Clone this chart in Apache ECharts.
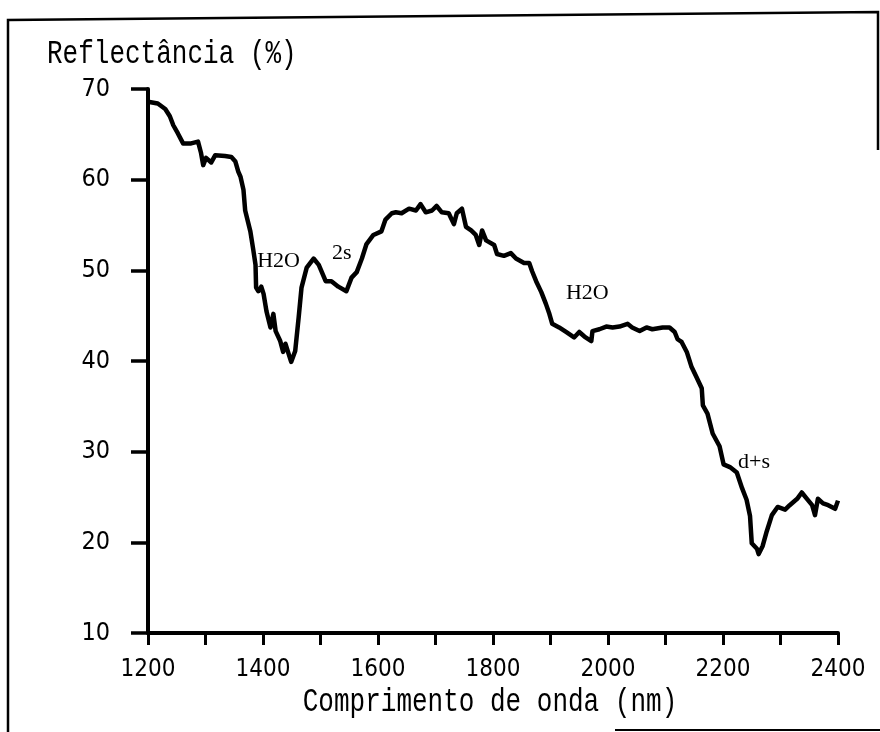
<!DOCTYPE html>
<html><head><meta charset="utf-8">
<script src="https://cdn.jsdelivr.net/npm/echarts@6/dist/echarts.min.js"></script>
<style>html,body{margin:0;padding:0;background:#fff}#c{width:880px;height:732px}</style>
</head><body><div id="c"></div>
<script>
// wavelength (nm)
const wavelength = [1200,1217,1230,1238,1244,1252,1261,1275,1287,1292,1296,1301,1310,1317,1334,1345,1352,1357,1361,1366,
1369,1378,1383,1387,1388,1392,1397,1401,1406,1413,1418,1422,1430,1435,1439,1449,1456,1462,1467,1476,
1488,1497,1509,1519,1531,1545,1554,1563,1572,1580,1592,1606,1613,1624,1631,1641,1654,1666,1674,1683,
1694,1702,1711,1723,1732,1737,1746,1753,1762,1770,1776,1781,1788,1802,1807,1819,1831,1840,1854,1863,
1868,1875,1884,1892,1898,1903,1915,1927,1941,1950,1959,1971,1973,1985,1997,2008,2020,2034,2042,2055,
2067,2077,2095,2107,2116,2121,2128,2137,2145,2154,2163,2165,2173,2182,2194,2201,2212,2224,2233,2241,
2247,2250,2259,2262,2269,2276,2285,2295,2308,2316,2329,2337,2346,2355,2360,2365,2374,2383,2395,2400];
// reflectance (%)
const reflectance = [68.6,68.4,67.8,67.0,66.0,65.1,64.0,64.0,64.2,63.0,61.6,62.4,61.9,62.7,62.6,62.5,62.0,60.9,60.3,58.9,
56.6,54.3,52.3,50.6,48.1,47.7,48.2,47.4,45.5,43.7,45.2,43.3,42.2,41.0,41.9,39.9,41.1,44.8,48.1,50.3,
51.3,50.6,48.8,48.8,48.2,47.7,49.2,49.8,51.3,52.9,53.9,54.3,55.6,56.3,56.4,56.3,56.8,56.6,57.3,56.4,
56.6,57.1,56.4,56.3,55.1,56.3,56.8,54.8,54.4,53.9,52.8,54.4,53.3,52.8,51.8,51.6,51.9,51.3,50.8,50.8,
49.9,48.8,47.6,46.3,45.2,44.1,43.7,43.2,42.6,43.2,42.7,42.2,43.3,43.5,43.8,43.7,43.8,44.1,43.7,43.3,
43.7,43.5,43.7,43.7,43.2,42.4,42.1,41.0,39.4,38.2,37.0,35.1,34.2,32.0,30.6,28.6,28.3,27.7,26.0,24.7,
22.9,19.9,19.3,18.7,19.6,21.2,23.0,23.9,23.6,24.1,24.8,25.5,24.8,24.1,23.0,24.8,24.3,24.1,23.7,24.6];
// annotations
const noteText = ['H2O','2s','H2O','d+s'];
const noteX = [1427,1537,1964,2254];
const noteY = [51.0,51.9,47.5,28.8];
// axes
const xMin = 1200, xMax = 2400, xStep = 100, xLabelStep = 200;
const yMin = 10, yMax = 70, yStep = 10;
const yTitle = 'Reflectância (%)';
const xTitle = 'Comprimento de onda (nm)';

const chart = echarts.init(document.getElementById('c'), null, {renderer:'canvas'});
const tickFont = '"Liberation Sans Narrow","DejaVu Sans Condensed","Liberation Sans",sans-serif';
const monoFont = '"Liberation Mono","DejaVu Sans Mono",monospace';
chart.setOption({
  animation:false,
  backgroundColor:'#fff',
  grid:{left:148,right:42,top:89,bottom:99},
  xAxis:{type:'value',min:xMin,max:xMax,interval:xStep,
    axisLine:{show:true,onZero:false,lineStyle:{color:'#000',width:4}},
    axisTick:{show:true,inside:false,length:12,lineStyle:{color:'#000',width:3}},
    splitLine:{show:false},
    axisLabel:{margin:25,color:'#000',fontSize:24,fontFamily:tickFont,
      formatter:v=> (v % xLabelStep === 0 ? String(v) : '')}},
  yAxis:{type:'value',min:yMin,max:yMax,interval:yStep,
    axisLine:{show:true,onZero:false,lineStyle:{color:'#000',width:4}},
    axisTick:{show:true,inside:false,length:17,lineStyle:{color:'#000',width:3.5}},
    splitLine:{show:false},
    axisLabel:{margin:38,color:'#000',fontSize:25,fontFamily:tickFont}},
  series:[
    {type:'line',data:wavelength.map((w,i)=>[w,reflectance[i]]),showSymbol:false,symbol:'none',
     lineStyle:{color:'#000',width:4.5,join:'round'},z:3},
    {type:'scatter',data:noteText.map((t,i)=>({name:t,value:[noteX[i],noteY[i]]})),
     symbolSize:0,itemStyle:{color:'#000',opacity:1},silent:true,
     label:{show:true,position:'inside',formatter:p=>p.name,color:'#000',opacity:1,
       textBorderWidth:0,fontSize:22,fontWeight:'normal',
       fontFamily:'"Liberation Serif","DejaVu Serif",serif'},z:4}
  ],
  graphic:[
    {type:'polyline',shape:{points:[[8,732],[8,20],[878,12],[878,150]]},style:{stroke:'#000',lineWidth:2.5,fill:null}},
    {type:'line',shape:{x1:615,y1:730,x2:880,y2:730},style:{stroke:'#000',lineWidth:2}},
    {type:'text',x:47,y:54,scaleY:1.3,style:{text:yTitle,font:'26px '+monoFont,fill:'#000',align:'left',verticalAlign:'middle'}},
    {type:'text',x:490,y:702,scaleY:1.25,style:{text:xTitle,font:'26px '+monoFont,fill:'#000',align:'center',verticalAlign:'middle'}}
  ]
});
</script></body></html>
